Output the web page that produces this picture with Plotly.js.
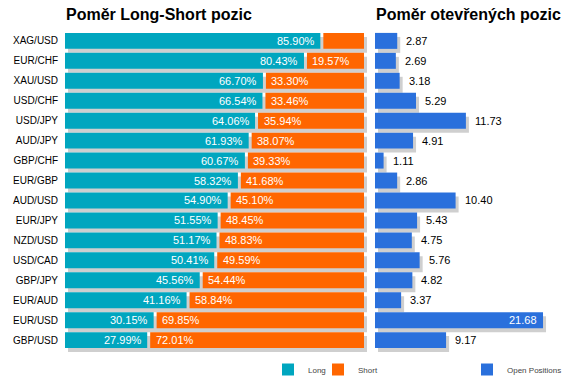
<!DOCTYPE html>
<html>
<head>
<meta charset="utf-8">
<script src="https://cdn.plot.ly/plotly-3.0.1.min.js"></script>
<style>
  html, body { margin: 0; padding: 0; background: #ffffff; }
  #chart { width: 573px; height: 384px; }
</style>
</head>
<body>
<div id="chart"></div>
<script>
// ---- data ----
var pairs = ['XAG/USD','EUR/CHF','XAU/USD','USD/CHF','USD/JPY','AUD/JPY','GBP/CHF','EUR/GBP',
             'AUD/USD','EUR/JPY','NZD/USD','USD/CAD','GBP/JPY','EUR/AUD','EUR/USD','GBP/USD'];
var longPct  = [85.90,80.43,66.70,66.54,64.06,61.93,60.67,58.32,54.90,51.55,51.17,50.41,45.56,41.16,30.15,27.99];
var shortPct = [14.10,19.57,33.30,33.46,35.94,38.07,39.33,41.68,45.10,48.45,48.83,49.59,54.44,58.84,69.85,72.01];
var openPos  = [2.87,2.69,3.18,5.29,11.73,4.91,1.11,2.86,10.40,5.43,4.75,5.76,4.82,3.37,21.68,9.17];
var titleLeft  = 'Poměr Long-Short pozic';
var titleRight = 'Poměr otevřených pozic';
var legendNames = ['Long', 'Short', 'Open Positions'];

// ---- styles ----
var W = 573, H = 384;
var C_LONG = '#00a6bf', C_SHORT = '#ff6600', C_OPEN = '#2a70dc', C_SHADOW = '#cfcfcf';
var FONT = 'Liberation Sans, Arial, sans-serif';
function fx(p) { return p / W; }
function fy(p) { return 1 - p / H; }

var L_X0 = 65, L_PX_PER_UNIT = 2.99, L_MAX = 101.5;
var R_X0 = 375, R_PX_PER_UNIT = 7.75, R_W = 180;
var R_MAX = R_W / R_PX_PER_UNIT;
var Y_TOP = 31, ROW = 20, Y_EXTRA = 0.2;
var nRows = pairs.length;
var yBottom = Y_TOP + (nRows + Y_EXTRA) * ROW;

var SHADOW_PX = 3;
var GAP = 0.5; // half gap between long and short (units)

var total = longPct.map(function (v, i) { return v + shortPct[i]; });

var traces = [
  { type: 'bar', orientation: 'h', y: pairs, x: total, base: SHADOW_PX / L_PX_PER_UNIT,
    width: 0.8, offset: -0.2, marker: { color: C_SHADOW }, xaxis: 'x', yaxis: 'y',
    showlegend: false, hoverinfo: 'skip' },
  { type: 'bar', orientation: 'h', y: pairs, x: openPos, base: SHADOW_PX / R_PX_PER_UNIT,
    width: 0.8, offset: -0.2, marker: { color: C_SHADOW }, xaxis: 'x2', yaxis: 'y',
    showlegend: false, hoverinfo: 'skip' },
  { type: 'bar', orientation: 'h', name: legendNames[0], y: pairs,
    x: longPct.map(function (v) { return v - GAP; }), base: 0,
    width: 0.8, marker: { color: C_LONG }, xaxis: 'x', yaxis: 'y', legend: 'legend', hoverinfo: 'skip' },
  { type: 'bar', orientation: 'h', name: legendNames[1], y: pairs,
    x: shortPct.map(function (v) { return v - GAP; }), base: longPct.map(function (v) { return v + GAP; }),
    width: 0.8, marker: { color: C_SHORT }, xaxis: 'x', yaxis: 'y', legend: 'legend3', hoverinfo: 'skip' },
  { type: 'bar', orientation: 'h', name: legendNames[2], y: pairs, x: openPos, base: 0,
    width: 0.8, marker: { color: C_OPEN }, xaxis: 'x2', yaxis: 'y', legend: 'legend2', hoverinfo: 'skip' }
];

var annotations = [];
annotations.push({ xref: 'paper', yref: 'paper', x: fx(64), y: fy(15), xanchor: 'left', yanchor: 'middle',
  text: '<b>' + titleLeft + '</b>', showarrow: false, font: { family: FONT, size: 16, color: '#000' } });
annotations.push({ xref: 'paper', yref: 'paper', x: fx(374), y: fy(15), xanchor: 'left', yanchor: 'middle',
  text: '<b>' + titleRight + '</b>', showarrow: false, font: { family: FONT, size: 16, color: '#000' } });

pairs.forEach(function (p, i) {
  annotations.push({ xref: 'x', yref: 'y', x: longPct[i], y: p, xanchor: 'right', yanchor: 'middle',
    xshift: -6, borderpad: 0, showarrow: false, text: longPct[i].toFixed(2) + '%',
    font: { family: FONT, size: 11, color: '#fff' } });
  if (shortPct[i] > 15) {
    annotations.push({ xref: 'x', yref: 'y', x: longPct[i], y: p, xanchor: 'left', yanchor: 'middle',
      xshift: 6, borderpad: 0, showarrow: false, text: shortPct[i].toFixed(2) + '%',
      font: { family: FONT, size: 11, color: '#fff' } });
  }
  var inside = openPos[i] > 15;
  annotations.push({ xref: 'x2', yref: 'y', x: openPos[i], y: p, xanchor: inside ? 'right' : 'left',
    yanchor: 'middle', xshift: inside ? -5 : 8, borderpad: 0, showarrow: false,
    text: openPos[i].toFixed(2), font: { family: FONT, size: 11, color: inside ? '#fff' : '#000' } });
});

var hiddenX = { visible: false, showgrid: false, zeroline: false, fixedrange: true };
function legendAt(px) {
  return { orientation: 'h', x: fx(px), xanchor: 'left', y: fy(356), yanchor: 'top',
    font: { family: FONT, size: 8, color: '#444' }, bgcolor: 'rgba(0,0,0,0)' };
}

var layout = {
  width: W, height: H, autosize: false,
  margin: { l: 0, r: 0, t: 0, b: 0 },
  paper_bgcolor: '#ffffff', plot_bgcolor: 'rgba(0,0,0,0)',
  barmode: 'overlay',
  font: { family: FONT },
  xaxis: Object.assign({}, hiddenX, { domain: [fx(L_X0), fx(L_X0 + L_MAX * L_PX_PER_UNIT)], range: [0, L_MAX], anchor: 'y' }),
  xaxis2: Object.assign({}, hiddenX, { domain: [fx(R_X0), fx(R_X0 + R_W)], range: [0, R_MAX], anchor: 'y' }),
  yaxis: {
    domain: [fy(yBottom), fy(Y_TOP)], type: 'category', categoryorder: 'array', categoryarray: pairs,
    range: [nRows - 0.5 + Y_EXTRA, -0.5], showgrid: false, zeroline: false, showline: false,
    ticks: '', ticklabelstandoff: 6, tickfont: { family: FONT, size: 10, color: '#000' },
    anchor: 'x', fixedrange: true
  },
  legend: legendAt(268),
  legend3: legendAt(318),
  legend2: legendAt(467),
  annotations: annotations
};

Plotly.newPlot('chart', traces, layout, { displayModeBar: false, staticPlot: true });
</script>
</body>
</html>
